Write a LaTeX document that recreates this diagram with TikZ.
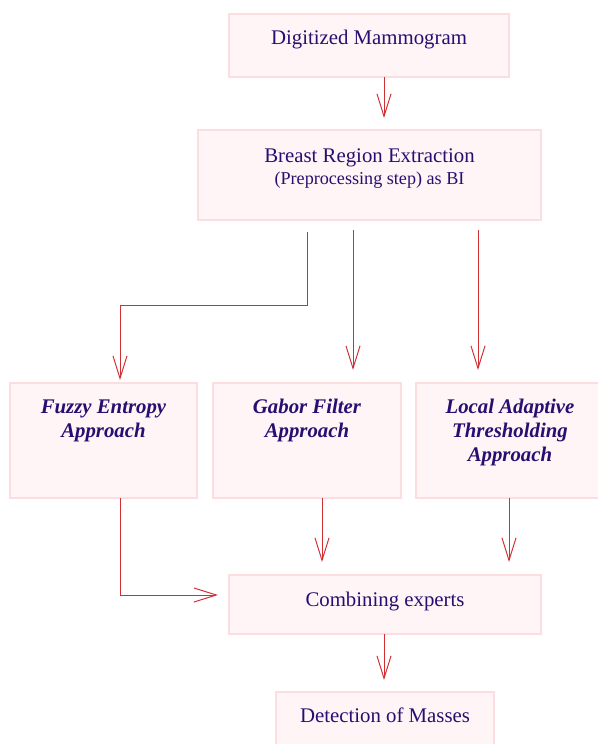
\documentclass[tikz,border=0pt]{standalone}
\usepackage{fontspec}
\setmainfont{Liberation Serif}
\usetikzlibrary{arrows.meta}

\definecolor{boxline}{RGB}{252,222,224}
\definecolor{boxfill}{RGB}{255,244,246}
\definecolor{arrowred}{RGB}{208,48,52}
\definecolor{txtblue}{RGB}{40,14,112}

\begin{document}
\begin{tikzpicture}[x=0.025cm, y=-0.025cm,
    box/.style={draw=boxline, fill=boxfill, line width=1pt, rectangle, inner sep=0pt},
    txt/.style={text=txtblue, anchor=base, align=center, inner sep=0pt,
      font=\fontsize{14.8}{17.5}\selectfont},
    bitxt/.style={txt, font=\fontsize{14.8}{17}\selectfont\bfseries\itshape},
    arr/.style={draw=arrowred, line width=0.7pt, -{Straight Barb[length=16pt,width=10pt]}}]
  \useasboundingbox (0,0) rectangle (598,744);

  % boxes (text nodes sit on the baseline of their last line)
  \node[box, minimum width=7cm, minimum height=1.575cm] (dm) at (369,45.5) {};
  \node[txt] (dmtext) at (369,44) {Digitized Mammogram};

  \node[box, minimum width=8.575cm, minimum height=2.25cm] (bre) at (369.5,175) {};
  \node[txt] (bretext) at (369.5,184) {Breast Region Extraction\\[-2pt]
    {\fontsize{12.9}{15}\selectfont (Preprocessing step) as BI}};

  \node[box, minimum width=4.675cm, minimum height=2.875cm] (fuzzy) at (103.5,440.5) {};
  \node[bitxt] (fuzzytext) at (103.5,437) {Fuzzy Entropy\\Approach};

  \node[box, minimum width=4.7cm, minimum height=2.875cm] (gabor) at (307,440.5) {};
  \node[bitxt] (gabortext) at (307,437) {Gabor Filter\\Approach};

  \node[box, minimum width=4.7cm, minimum height=2.875cm] (local) at (510,440.5) {};
  \node[bitxt] (localtext) at (510,461) {Local Adaptive\\Thresholding\\Approach};

  \node[box, minimum width=7.8cm, minimum height=1.475cm] (comb) at (385,604.5) {};
  \node[txt] (combtext) at (385,606) {Combining experts};

  \node[box, minimum width=5.45cm, minimum height=1.7cm] (det) at (385,726) {};
  \node[txt] (dettext) at (385,722) {Detection of Masses};

  % arrow ends
  \coordinate (dmout) at (384,77);
  \coordinate (brein) at (384,118);
  \coordinate (breout1) at (307,232);
  \coordinate (fuzzyin) at (120,380);
  \coordinate (breout2) at (353,230);
  \coordinate (gaborin) at (353,370);
  \coordinate (breout3) at (478,230);
  \coordinate (localin) at (478,370);
  \coordinate (fuzzyout) at (120,498);
  \coordinate (combin1) at (218,595);
  \coordinate (gaborout) at (322,498);
  \coordinate (combin2) at (322,562);
  \coordinate (localout) at (509,498);
  \coordinate (combin3) at (509,562);
  \coordinate (combout) at (384,634);
  \coordinate (detin) at (384,680);

  % arrows
  \draw[arr] (dmout) -- (brein);
  \draw[arr] (breout1) -- (breout1 |- 0,305) -- (fuzzyin |- 0,305) -- (fuzzyin);
  \draw[arr] (breout2) -- (gaborin);
  \draw[arr] (breout3) -- (localin);
  \draw[arr] (fuzzyout) |- (combin1);
  \draw[arr] (gaborout) -- (combin2);
  \draw[arr] (localout) -- (combin3);
  \draw[arr] (combout) -- (detin);
\end{tikzpicture}
\end{document}
